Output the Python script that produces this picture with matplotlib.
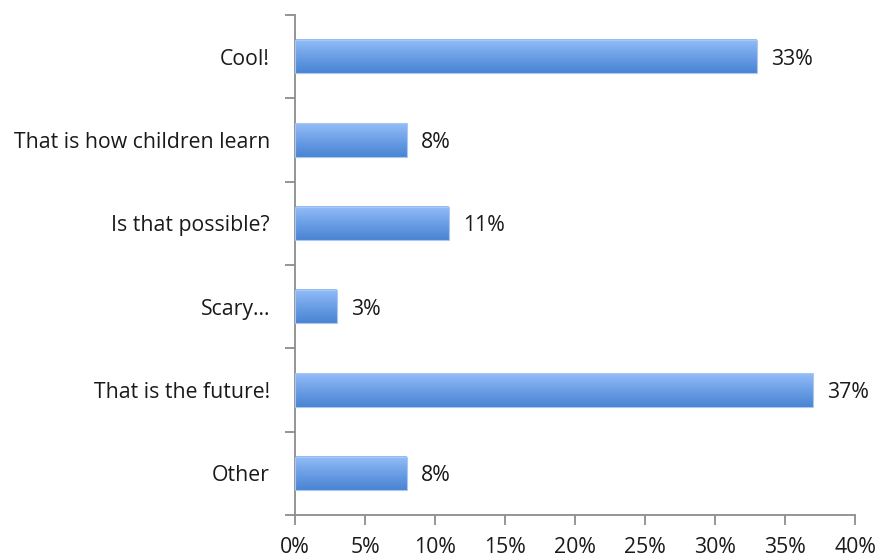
import numpy as np
import matplotlib.pyplot as plt
from matplotlib.colors import LinearSegmentedColormap

categories = ["Cool!", "That is how children learn", "Is that possible?",
              "Scary...", "That is the future!", "Other"]
values = [33, 8, 11, 3, 37, 8]
xticks = [0, 5, 10, 15, 20, 25, 30, 35, 40]

plt.rcParams['font.family'] = ['Open Sans', 'DejaVu Sans']

fig = plt.figure(figsize=(8.77, 5.57), dpi=100)
ax = fig.add_axes([295 / 877, 42 / 557, 560 / 877, 500 / 557])

n = len(categories)
ypos = np.arange(n)[::-1]
bar_h = 0.4
fs = 15.3

# vertical gradient: light at top, darker at bottom
grad_cmap = LinearSegmentedColormap.from_list("barblue", ["#4a84d2", "#6c9fe6", "#93bdf8"])
grad = np.linspace(0, 1, 64).reshape(-1, 1)

for y, v in zip(ypos, values):
    ax.imshow(grad, cmap=grad_cmap, origin='lower', aspect='auto',
              extent=[0, v, y - bar_h / 2, y + bar_h / 2], zorder=2)
    ax.barh(y, v, height=bar_h, color='none', edgecolor='#a9c8f4', linewidth=0.8, zorder=3)
    ax.text(v + 1.0, y - 0.03, f"{v}%", va='center', ha='left', fontsize=fs, color='#1a1a1a')

ax.set_xlim(0, 40)
ax.set_ylim(-0.5, n - 0.5)
ax.set_xticks(xticks)
ax.set_xticklabels([f"{t}%" for t in xticks], fontsize=fs, color='#1a1a1a')
ax.set_yticks(ypos)
ax.set_yticklabels(categories, fontsize=fs, color='#1a1a1a')
ax.set_yticks(np.arange(-0.5, n, 1), minor=True)
ax.tick_params(axis='y', which='major', length=0, pad=18)
ax.tick_params(axis='y', which='minor', length=7, width=1.3, color='#8c8c8c', direction='out')
ax.tick_params(axis='x', length=7, width=1.3, color='#8c8c8c', direction='out', pad=9)

for s in ['top', 'right']:
    ax.spines[s].set_visible(False)
for s in ['left', 'bottom']:
    ax.spines[s].set_color('#8c8c8c')
    ax.spines[s].set_linewidth(1.3)

fig.savefig("out.png", dpi=100)
